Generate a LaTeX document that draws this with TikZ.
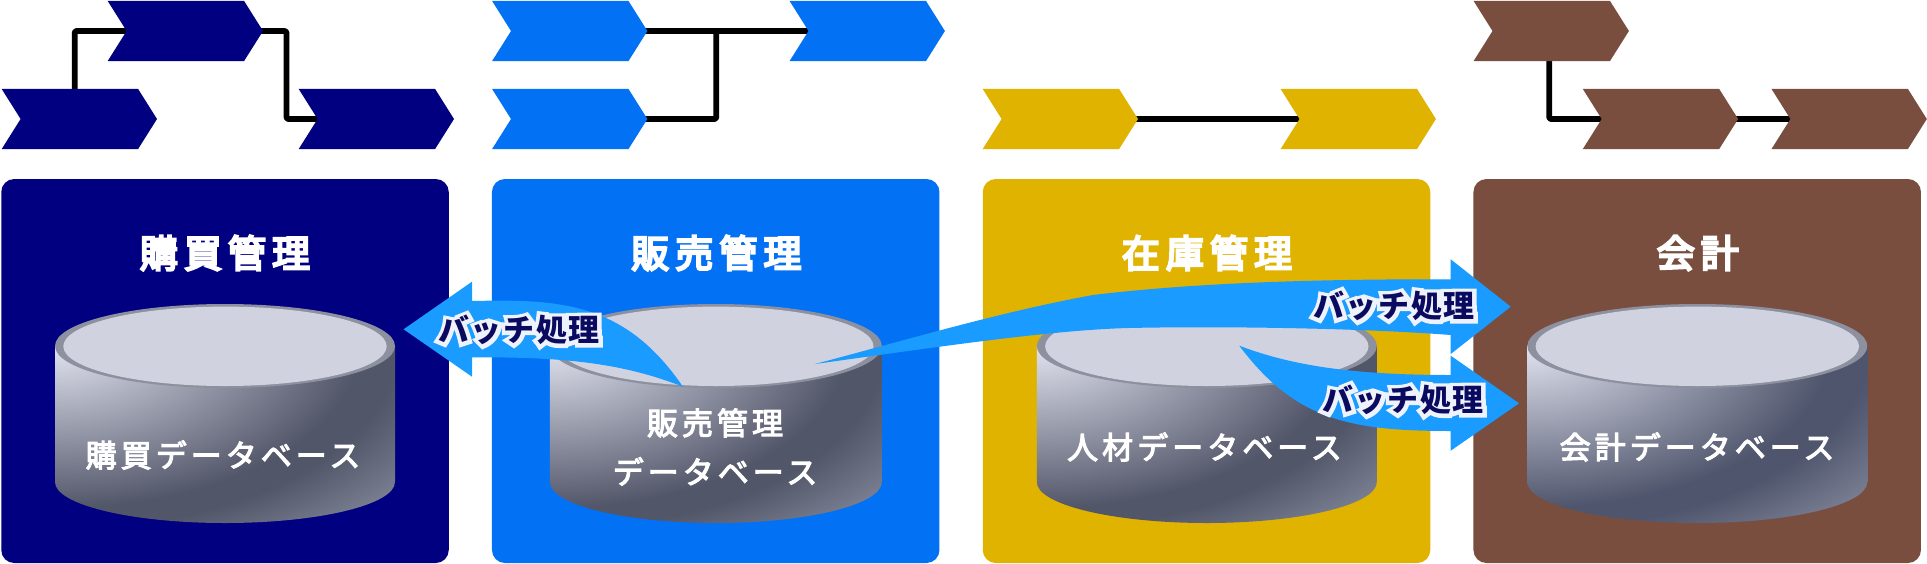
\documentclass[tikz,border=0pt]{standalone}
\usepackage{fontspec}
\newfontfamily\titlef[LetterSpace=16,FakeBold=6]{Noto Sans CJK JP}
\newfontfamily\labelf[LetterSpace=13,FakeBold=3.5]{Noto Sans CJK JP}
\newfontfamily\batchf[LetterSpace=5]{Noto Sans CJK JP}
\newfontfamily\batchh[LetterSpace=5,FakeBold=25]{Noto Sans CJK JP}
\definecolor{cnavy}{HTML}{000080}
\definecolor{cblue}{HTML}{0371F4}
\definecolor{cyell}{HTML}{E0B300}
\definecolor{cbrown}{HTML}{794E3F}
\definecolor{carrow}{HTML}{1A9BFF}
\definecolor{crim}{HTML}{8D909E}
\definecolor{ctop}{HTML}{D0D2DF}
\definecolor{cyla}{HTML}{E2E4F0}
\definecolor{cylb}{HTML}{525669}
\definecolor{cylbb}{HTML}{4F556C}
\definecolor{cylc}{HTML}{8A8FA2}
\definecolor{chalo}{HTML}{EEF2FA}
\definecolor{ctxt}{HTML}{0A0A60}
\pgfdeclareradialshading{cylshade}{\pgfpoint{0bp}{0bp}}{color(0bp)=(cyla); color(16bp)=(cylb); color(18bp)=(cylb); color(25bp)=(cylc); color(50bp)=(cylc)}
\pgfdeclareradialshading{cylshadeb}{\pgfpoint{0bp}{0bp}}{color(0bp)=(cyla); color(16bp)=(cylbb); color(18bp)=(cylbb); color(25bp)=(cylc); color(50bp)=(cylc)}
\tikzset{
  chevbox/.style={rectangle,inner sep=0pt,minimum width=155pt,minimum height=60pt},
  conn/.style={draw=black,line width=5.8pt,rounded corners=2pt,line join=round},
  panel/.style={rectangle,rounded corners=13pt,inner sep=0pt,minimum width=447.5pt,minimum height=384pt},
  ptitle/.style={text=white,inner sep=0pt,font=\titlef\fontsize{38}{44}\selectfont},
  dblabel/.style={text=white,inner sep=0pt,align=center,font=\labelf\fontsize{31}{49}\selectfont},
  batch/.style={inner sep=0pt,font=\fontsize{31}{36}\selectfont},
  flow/.style={fill=carrow}
}
\newcommand\chevbase[3]{\node[chevbox] (#1) at ({#2+77.5},{#3+30}) {};}
\newcommand\chevfill[2]{\fill[#2] (#1.north west) -- ([xshift=19pt]#1.west) -- (#1.south west) -- ([xshift=-19pt]#1.south east) -- (#1.east) -- ([xshift=-19pt]#1.north east) -- cycle;}
\newcommand\halotxt[1]{\rlap{\batchh\bfseries\color{chalo}#1}{\batchf\bfseries\color{ctxt}#1}}
% cx, rx, shading
\newcommand\cyl[3]{%
  \begin{scope}
    \clip ({#1-#2},345) -- ({#1-#2},482) arc[start angle=180,end angle=360,x radius=#2 pt,y radius=41pt] -- ({#1+#2},345) -- cycle;
    \shade[shading=#3] ({#1-#2-2.8*#2},{345-255}) rectangle ({#1-#2+2.8*#2},{345+255});
  \end{scope}
  \fill[crim] (#1,346) ellipse[x radius=#2 pt,y radius=42pt];
  \fill[ctop] (#1,346.3) ellipse[x radius=#2 pt-8.3pt,y radius=39.7pt];
}
\begin{document}
\begin{tikzpicture}[x=1pt,y=-1pt]
\useasboundingbox (0,0) rectangle (1927,563);
\fill[white] (0,0) rectangle (1927,563);
% process chevron boxes
\chevbase{na}{107.8}{1}\chevbase{nb}{1.8}{89}\chevbase{nc}{298.8}{89}
\chevbase{ba}{492.2}{1}\chevbase{bb}{492.2}{89}\chevbase{bc}{789.7}{1}
\chevbase{ya}{982.8}{89}\chevbase{yb}{1280.7}{89}
\chevbase{ka}{1473.7}{1}\chevbase{kb}{1582.9}{89}\chevbase{kc}{1771.6}{89}
\coordinate (nk) at (286.5,119);
\coordinate (bk) at (716.3,30);
% connectors
\draw[conn] ([xshift=-4.6pt]nb.north) |- (na.center);
\draw[conn] (na.center) -| (nk) -- (nc.center);
\draw[conn] (ba.center) -- (bc.center);
\draw[conn] (bb.center) -| (bk);
\draw[conn] (ya.center) -- (yb.center);
\draw[conn] ([xshift=-2pt]ka.south) |- (kb.center);
\draw[conn] (kb.center) -- (kc.center);
% chevrons
\chevfill{na}{cnavy}\chevfill{nb}{cnavy}\chevfill{nc}{cnavy}
\chevfill{ba}{cblue}\chevfill{bb}{cblue}\chevfill{bc}{cblue}
\chevfill{ya}{cyell}\chevfill{yb}{cyell}
\chevfill{ka}{cbrown}\chevfill{kb}{cbrown}\chevfill{kc}{cbrown}
% panels
\node[panel,fill=cnavy] (p1) at (225,371) {};
\node[panel,fill=cblue] (p2) at (715.7,371) {};
\node[panel,fill=cyell] (p3) at (1206.5,371) {};
\node[panel,fill=cbrown] (p4) at (1697.2,371) {};
\node[ptitle] (t1) at (225,253) {購買管理};
\node[ptitle] (t2) at (716.4,253) {販売管理};
\node[ptitle] (t3) at (1207,253) {在庫管理};
\node[ptitle] (t4) at (1697.8,253) {会計};
% cylinders
\cyl{225}{170}{cylshade}
\cyl{715.8}{166}{cylshade}
\cyl{1206.8}{170}{cylshade}
\cyl{1697.3}{170}{cylshadeb}
\node[dblabel] (d1) at (223,455) {購買データベース};
\node[dblabel] (d2) at (715,447) {販売管理\\データベース};
\node[dblabel] (d3) at (1204.5,447) {人材データベース};
\node[dblabel] (d4) at (1697,447) {会計データベース};
% batch arrows
\fill[flow] (403.6,329.3) -- (472,281.7) -- (472,301) .. controls (560,299) and (625,302) .. (682.9,386.7) .. controls (620,362) and (560,357) .. (472,357.3) -- (472,376.7) -- cycle;
\fill[flow] (815,364) .. controls (910,339) and (1000,312) .. (1093,295) .. controls (1200,282) and (1330,279) .. (1450.7,279.3) -- (1450.7,259.3) -- (1510.7,306.7) -- (1450.7,354) -- (1450.7,335) .. controls (1360,328) and (1220,326) .. (1128.6,328) .. controls (1050,330) and (930,348) .. (815,364) -- cycle;
\fill[flow] (1239.3,345.7) .. controls (1290,365) and (1350,375) .. (1450.7,375) -- (1450.7,355.7) -- (1519,403.3) -- (1450.7,450.7) -- (1450.7,431) .. controls (1350,431) and (1295,420) .. (1239.3,345.7) -- cycle;
\node[batch] (b1) at (519,330) {\halotxt{バッチ処理}};
\node[batch] (b2) at (1394,306) {\halotxt{バッチ処理}};
\node[batch] (b3) at (1403,400) {\halotxt{バッチ処理}};
\end{tikzpicture}
\end{document}
